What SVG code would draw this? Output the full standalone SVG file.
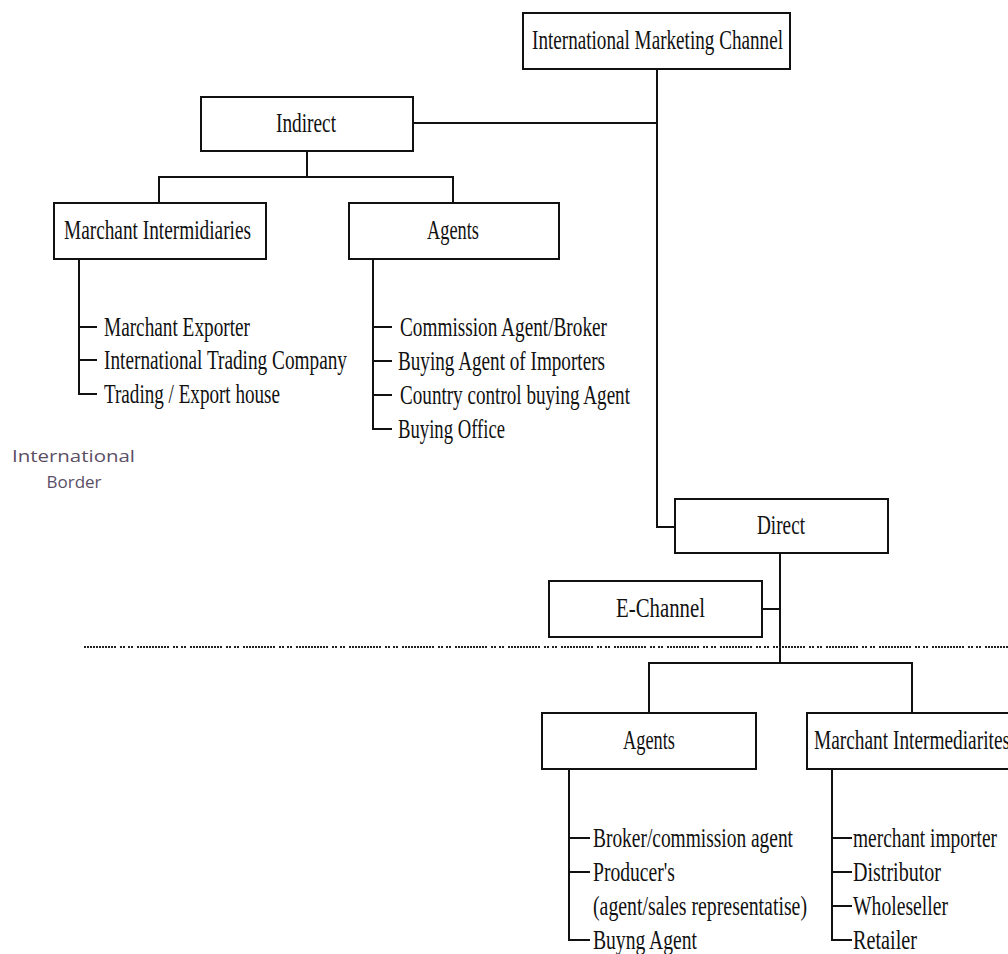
<svg xmlns="http://www.w3.org/2000/svg" width="1008" height="954" viewBox="0 0 1008 954">
  <style>
    .box { fill: #ffffff; stroke: #111111; stroke-width: 2; }
    .lbl { font-family: "Liberation Serif", "Times New Roman", serif; font-size: 28px; fill: #111111; }
    .wire { fill: none; stroke: #111111; stroke-width: 2; }
    .border-line { fill: none; stroke: #222222; stroke-width: 2;
      stroke-dasharray: 2 1 2 1 2 1 2 1 2 1 2 1 2 1 2 1 2 1 2 1 2 4 2 1 2 3 2 1 2 4; }
    .note { font-family: "Open Sans", "Noto Sans", sans-serif; font-size: 17px; fill: #5b4e66; }
  </style>

  <rect width="1008" height="954" fill="#ffffff"/>

  <!-- connectors -->
  <g id="connectors">
    <path class="wire" d="M657 69 V527 H675"/>
    <path class="wire" d="M413 123 H657"/>
    <path class="wire" d="M307 151 V177"/>
    <path class="wire" d="M159 203 V177 H453 V203"/>
    <!-- merchant intermediaries list -->
    <path class="wire" d="M79 259 V394 H97 M79 327 H97 M79 360 H97"/>
    <!-- agents list -->
    <path class="wire" d="M373 259 V429 H392 M373 327 H392 M373 361 H392 M373 395 H392"/>
    <!-- direct branch -->
    <path class="wire" d="M780 553 V663"/>
    <path class="wire" d="M762 609 H780"/>
    <path class="wire" d="M649 713 V663 H912 V713"/>
    <path class="wire" d="M569 769 V940 H590 M569 838 H590 M569 872 H590"/>
    <path class="wire" d="M832 769 V940 H852 M832 838 H852 M832 872 H852 M832 906 H852"/>
  </g>

  <!-- international border -->
  <g id="border">
    <path class="border-line" d="M84 647 H1008"/>
    <text class="note" x="12" y="462" textLength="123" lengthAdjust="spacingAndGlyphs">International</text>
    <text class="note" x="74" y="488" text-anchor="middle">Border</text>
  </g>

  <g id="node-channel">
    <rect class="box" x="523" y="13" width="267" height="56"/>
    <text class="lbl" x="532" y="49" textLength="251" lengthAdjust="spacingAndGlyphs">International Marketing Channel</text>
  </g>

  <g id="node-indirect">
    <rect class="box" x="201" y="97" width="212" height="54"/>
    <text class="lbl" x="276" y="132" textLength="60" lengthAdjust="spacingAndGlyphs">Indirect</text>
  </g>

  <g id="node-indirect-merchant">
    <rect class="box" x="54" y="203" width="212" height="56"/>
    <text class="lbl" x="64" y="239" textLength="187" lengthAdjust="spacingAndGlyphs">Marchant Intermidiaries</text>
  </g>

  <g id="list-indirect-merchant">
    <text class="lbl" x="104" y="336" textLength="146" lengthAdjust="spacingAndGlyphs">Marchant Exporter</text>
    <text class="lbl" x="104" y="369" textLength="243" lengthAdjust="spacingAndGlyphs">International Trading Company</text>
    <text class="lbl" x="104" y="403" textLength="176" lengthAdjust="spacingAndGlyphs">Trading / Export house</text>
  </g>

  <g id="node-indirect-agents">
    <rect class="box" x="349" y="203" width="210" height="56"/>
    <text class="lbl" x="427" y="239" textLength="52" lengthAdjust="spacingAndGlyphs">Agents</text>
  </g>

  <g id="list-indirect-agents">
    <text class="lbl" x="400" y="336" textLength="207" lengthAdjust="spacingAndGlyphs">Commission Agent/Broker</text>
    <text class="lbl" x="398" y="370" textLength="207" lengthAdjust="spacingAndGlyphs">Buying Agent of Importers</text>
    <text class="lbl" x="400" y="404" textLength="230" lengthAdjust="spacingAndGlyphs">Country control buying Agent</text>
    <text class="lbl" x="398" y="438" textLength="107" lengthAdjust="spacingAndGlyphs">Buying Office</text>
  </g>

  <g id="node-direct">
    <rect class="box" x="675" y="499" width="213" height="54"/>
    <text class="lbl" x="757" y="534" textLength="48" lengthAdjust="spacingAndGlyphs">Direct</text>
  </g>

  <g id="node-echannel">
    <rect class="box" x="549" y="581" width="213" height="56"/>
    <text class="lbl" x="616" y="617" textLength="89" lengthAdjust="spacingAndGlyphs">E-Channel</text>
  </g>

  <g id="node-direct-agents">
    <rect class="box" x="542" y="713" width="214" height="56"/>
    <text class="lbl" x="623" y="749" textLength="52" lengthAdjust="spacingAndGlyphs">Agents</text>
  </g>

  <g id="list-direct-agents">
    <text class="lbl" x="593" y="847" textLength="200" lengthAdjust="spacingAndGlyphs">Broker/commission agent</text>
    <text class="lbl" x="593" y="881" textLength="82" lengthAdjust="spacingAndGlyphs">Producer's</text>
    <text class="lbl" x="593" y="915" textLength="214" lengthAdjust="spacingAndGlyphs">(agent/sales representatise)</text>
    <text class="lbl" x="593" y="949" textLength="104" lengthAdjust="spacingAndGlyphs">Buyng Agent</text>
  </g>

  <g id="node-direct-merchant">
    <rect class="box" x="807" y="713" width="210" height="56"/>
    <text class="lbl" x="814" y="749" textLength="196" lengthAdjust="spacingAndGlyphs">Marchant Intermediarites</text>
  </g>

  <g id="list-direct-merchant">
    <text class="lbl" x="853" y="847" textLength="144" lengthAdjust="spacingAndGlyphs">merchant importer</text>
    <text class="lbl" x="853" y="881" textLength="88" lengthAdjust="spacingAndGlyphs">Distributor</text>
    <text class="lbl" x="853" y="915" textLength="95" lengthAdjust="spacingAndGlyphs">Wholeseller</text>
    <text class="lbl" x="853" y="949" textLength="64" lengthAdjust="spacingAndGlyphs">Retailer</text>
  </g>
</svg>
